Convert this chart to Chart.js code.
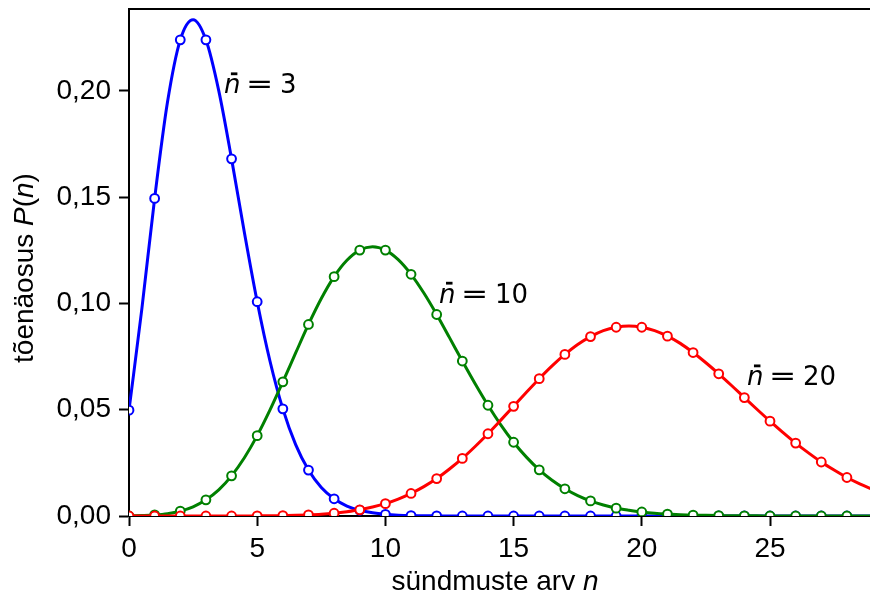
<!DOCTYPE html>
<html>
<head>
<meta charset="utf-8">
<script src="https://cdn.jsdelivr.net/npm/chart.js@4.4.1/dist/chart.umd.min.js"></script>
<style>
  html, body { margin: 0; padding: 0; background: #fff; }
  #wrap { width: 870px; height: 598px; }
</style>
</head>
<body>
<div id="wrap"><canvas id="c" width="870" height="598"></canvas></div>
<script>
// Poisson P(n) for mean 3, 10, 20.
// Markers sit on integer n; the smooth curves are sampled every half step.

const markerN = [0, 1, 2, 3, 4, 5, 6, 7, 8, 9, 10, 11, 12, 13, 14, 15, 16, 17, 18, 19, 20, 21, 22, 23, 24, 25, 26, 27, 28];

const markers3 = [0.0498, 0.1494, 0.2240, 0.2240, 0.1680, 0.1008, 0.0504, 0.0216, 0.0081, 0.0027,
  0.0008, 0.0002, 0.0001, 0, 0, 0, 0, 0, 0, 0, 0, 0, 0, 0, 0, 0, 0, 0, 0];
const markers10 = [0.0000, 0.0005, 0.0023, 0.0076, 0.0189, 0.0378, 0.0631, 0.0901, 0.1126, 0.1251,
  0.1251, 0.1137, 0.0948, 0.0729, 0.0521, 0.0347, 0.0217, 0.0128, 0.0071, 0.0037,
  0.0019, 0.0009, 0.0004, 0.0002, 0.0001, 0, 0, 0, 0];
const markers20 = [0, 0, 0, 0, 0, 0.0001, 0.0002, 0.0005, 0.0013, 0.0029,
  0.0058, 0.0106, 0.0176, 0.0271, 0.0387, 0.0516, 0.0646, 0.0760, 0.0844, 0.0888,
  0.0888, 0.0846, 0.0769, 0.0669, 0.0557, 0.0446, 0.0343, 0.0254, 0.0181];

const curveX = [0, 0.5, 1, 1.5, 2, 2.5, 3, 3.5, 4, 4.5, 5, 5.5, 6, 6.5, 7, 7.5, 8, 8.5, 9, 9.5,
  10, 10.5, 11, 11.5, 12, 12.5, 13, 13.5, 14, 14.5, 15, 15.5, 16, 16.5, 17, 17.5, 18, 18.5, 19, 19.5,
  20, 20.5, 21, 21.5, 22, 22.5, 23, 23.5, 24, 24.5, 25, 25.5, 26, 26.5, 27, 27.5, 28, 28.5, 29];

const curve3 = [0.0498, 0.0973, 0.1494, 0.1946, 0.2240, 0.2335, 0.2240, 0.2001, 0.1680, 0.1334,
  0.1008, 0.0728, 0.0504, 0.0336, 0.0216, 0.0134, 0.0081, 0.0047, 0.0027, 0.0015,
  0.0008, 0.0004, 0.0002, 0.0001, 0.0001, 0, 0, 0, 0, 0,
  0, 0, 0, 0, 0, 0, 0, 0, 0, 0,
  0, 0, 0, 0, 0, 0, 0, 0, 0, 0,
  0, 0, 0, 0, 0, 0, 0, 0, 0];
const curve10 = [0.0000, 0.0002, 0.0005, 0.0011, 0.0023, 0.0043, 0.0076, 0.0123, 0.0189, 0.0274,
  0.0378, 0.0499, 0.0631, 0.0767, 0.0901, 0.1023, 0.1126, 0.1203, 0.1251, 0.1267,
  0.1251, 0.1206, 0.1137, 0.1049, 0.0948, 0.0839, 0.0729, 0.0622, 0.0521, 0.0429,
  0.0347, 0.0277, 0.0217, 0.0168, 0.0128, 0.0096, 0.0071, 0.0052, 0.0037, 0.0027,
  0.0019, 0.0013, 0.0009, 0.0006, 0.0004, 0.0003, 0.0002, 0.0001, 0.0001, 0.0001,
  0, 0, 0, 0, 0, 0, 0, 0, 0];
const curve20 = [0, 0, 0, 0, 0, 0, 0, 0, 0, 0,
  0.0001, 0.0001, 0.0002, 0.0003, 0.0005, 0.0008, 0.0013, 0.0020, 0.0029, 0.0042,
  0.0058, 0.0079, 0.0106, 0.0138, 0.0176, 0.0221, 0.0271, 0.0327, 0.0387, 0.0451,
  0.0516, 0.0582, 0.0646, 0.0706, 0.0760, 0.0807, 0.0844, 0.0872, 0.0888, 0.0894,
  0.0888, 0.0872, 0.0846, 0.0812, 0.0769, 0.0721, 0.0669, 0.0614, 0.0557, 0.0501,
  0.0446, 0.0393, 0.0343, 0.0297, 0.0254, 0.0216, 0.0181, 0.0151, 0.0125];

const xTicks = [0, 5, 10, 15, 20, 25];
const yTicks = [0, 0.05, 0.10, 0.15, 0.20];

// label text + where it sits (data coords, left/baseline)
const curveLabels = [
  { mean: '3',  x: 3.74,  y: 0.1988 },
  { mean: '10', x: 12.13, y: 0.1003 },
  { mean: '20', x: 24.14, y: 0.0614 },
];

const BLUE = '#0000ff', GREEN = '#008000', RED = '#ff0000';
const TICK_FONT = 'Liberation Sans, Arial, sans-serif';
const MATH_FONT = 'DejaVu Sans, sans-serif';
const FONT_SIZE = 28;

function pts(xs, ys) {
  return xs.map((x, i) => ({ x, y: ys[i] }));
}

function curveSet(data, color, order) {
  return {
    data: pts(curveX, data),
    showLine: true,
    borderColor: color,
    borderWidth: 3,
    pointRadius: 0,
    cubicInterpolationMode: 'monotone',
    order,
  };
}

function markerSet(data, color, order) {
  return {
    data: pts(markerN, data),
    showLine: false,
    pointRadius: 4.4,
    pointBorderWidth: 2,
    pointBackgroundColor: '#ffffff',
    pointBorderColor: color,
    order,
  };
}

// draws the top spine, axis titles and the n-bar labels
const decorations = {
  id: 'decorations',
  afterDraw(chart) {
    const { ctx, chartArea, scales } = chart;
    ctx.save();

    // top spine
    ctx.strokeStyle = '#000';
    ctx.lineWidth = 2;
    ctx.beginPath();
    ctx.moveTo(chartArea.left - 1, chartArea.top);
    ctx.lineTo(chartArea.right, chartArea.top);
    ctx.stroke();

    ctx.fillStyle = '#000';
    ctx.textBaseline = 'alphabetic';
    ctx.textAlign = 'left';

    // mixed upright/italic runs, centred on (0,0) of the current transform
    function runs(parts, size) {
      const widths = parts.map(p => {
        ctx.font = (p[1] ? 'italic ' : '') + size + 'px ' + TICK_FONT;
        return ctx.measureText(p[0]).width;
      });
      let x = -widths.reduce((a, b) => a + b, 0) / 2;
      parts.forEach((p, i) => {
        ctx.font = (p[1] ? 'italic ' : '') + size + 'px ' + TICK_FONT;
        ctx.fillText(p[0], x, 0);
        x += widths[i];
      });
    }

    // x title
    ctx.save();
    ctx.translate(495, 590);
    runs([['sündmuste arv ', false], ['n', true]], FONT_SIZE);
    ctx.restore();

    // y title
    ctx.save();
    ctx.translate(33, 268);
    ctx.rotate(-Math.PI / 2);
    runs([['tõenäosus ', false], ['P', true], ['(', false], ['n', true], [')', false]], FONT_SIZE);
    ctx.restore();

    // n-bar labels
    const size = 26;
    curveLabels.forEach(l => {
      const px = scales.x.getPixelForValue(l.x);
      const py = scales.y.getPixelForValue(l.y);
      ctx.font = 'italic ' + size + 'px ' + MATH_FONT;
      ctx.fillText('n', px - 1, py);
      ctx.fillRect(px + 6, py - 21, 6.5, 2.8);
      ctx.font = size + 'px ' + MATH_FONT;
      ctx.save();
      ctx.translate(px + 21, py);
      ctx.scale(1.25, 1);
      ctx.fillText('=', 0, 0);
      ctx.restore();
      ctx.fillText(l.mean, px + 55, py);
    });

    ctx.restore();
  },
};

const tickStyle = { color: '#000', font: { family: TICK_FONT, size: FONT_SIZE } };
const gridStyle = { drawOnChartArea: false, drawTicks: true, tickLength: 10, tickWidth: 2, tickColor: '#000' };
const borderStyle = { display: true, color: '#000', width: 2 };

function noPad(s) {
  s.paddingTop = 0;
  s.paddingBottom = 0;
  s.paddingLeft = 0;
  s.paddingRight = 0;
}

new Chart(document.getElementById('c'), {
  type: 'scatter',
  data: {
    datasets: [
      curveSet(curve3, BLUE, 6),
      markerSet(markers3, BLUE, 5),
      curveSet(curve10, GREEN, 4),
      markerSet(markers10, GREEN, 3),
      curveSet(curve20, RED, 2),
      markerSet(markers20, RED, 1),
    ],
  },
  options: {
    responsive: false,
    animation: false,
    events: [],
    layout: { autoPadding: false, padding: { top: 9, right: 0, left: 0, bottom: 0 } },
    plugins: { legend: { display: false }, tooltip: { enabled: false } },
    scales: {
      x: {
        type: 'linear',
        min: 0,
        max: 28.9,
        afterBuildTicks: s => { s.ticks = xTicks.map(v => ({ value: v })); },
        afterFit: s => { s.height = 82; noPad(s); },
        ticks: { ...tickStyle, padding: 6, maxRotation: 0, callback: v => String(v) },
        grid: gridStyle,
        border: borderStyle,
      },
      y: {
        type: 'linear',
        min: 0,
        max: 0.2385,
        afterBuildTicks: s => { s.ticks = yTicks.map(v => ({ value: v })); },
        afterFit: s => { s.width = 129; noPad(s); },
        ticks: { ...tickStyle, padding: 8, callback: v => v.toFixed(2).replace('.', ',') },
        grid: gridStyle,
        border: borderStyle,
      },
    },
  },
  plugins: [decorations],
});
</script>
</body>
</html>
